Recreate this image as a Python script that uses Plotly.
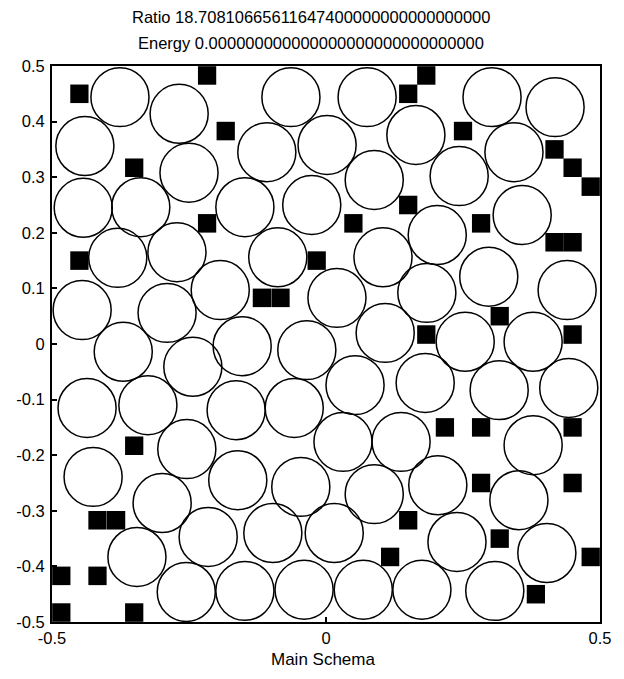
import plotly.graph_objects as go

# Disc centres (x, y) of the packing
circle_x = [-0.376, -0.268, -0.064, 0.075, 0.303, 0.418, -0.440, -0.108, 0.002, 0.164,
            0.343, -0.250, 0.088, 0.243, -0.443, -0.338, -0.148, -0.026, 0.203, 0.358,
            -0.380, -0.272, -0.088, 0.104, 0.297, 0.440, -0.193, -0.445, -0.290, 0.020,
            0.184, -0.370, -0.243, -0.153, -0.035, 0.108, 0.254, 0.378, -0.436, -0.325,
            -0.164, -0.058, 0.053, 0.181, 0.316, 0.443, -0.254, 0.031, 0.137, 0.378,
            -0.425, -0.161, -0.046, 0.088, 0.204, -0.299, 0.352, -0.215, -0.097, 0.015,
            0.239, -0.345, 0.403, -0.255, -0.148, -0.040, 0.068, 0.175, 0.308]
circle_y = [0.444, 0.414, 0.444, 0.444, 0.444, 0.426, 0.356, 0.345, 0.358, 0.376,
            0.345, 0.308, 0.295, 0.302, 0.245, 0.246, 0.246, 0.250, 0.196, 0.232,
            0.155, 0.165, 0.156, 0.156, 0.121, 0.097, 0.097, 0.061, 0.056, 0.083,
            0.092, -0.014, -0.041, -0.004, -0.011, 0.020, 0.004, 0.004, -0.115, -0.110,
            -0.119, -0.115, -0.074, -0.070, -0.083, -0.079, -0.189, -0.176, -0.176, -0.182,
            -0.239, -0.245, -0.257, -0.270, -0.254, -0.286, -0.281, -0.347, -0.340, -0.340,
            -0.356, -0.383, -0.376, -0.446, -0.444, -0.442, -0.442, -0.442, -0.444]

# Occupied grid cells (cell centres)
block_x = [-0.450, -0.217, -0.183, -0.350, -0.217, -0.450, 0.183, 0.150, 0.250, 0.417,
           0.450, 0.483, 0.150, 0.050, 0.283, 0.417, 0.450, -0.017, -0.117, -0.083,
           0.317, 0.183, 0.450, 0.217, 0.283, 0.450, -0.350, 0.283, 0.450, -0.417,
           -0.383, 0.150, 0.317, 0.117, 0.483, -0.483, -0.417, 0.383, -0.483, -0.350]
block_y = [0.450, 0.483, 0.383, 0.317, 0.217, 0.150, 0.483, 0.450, 0.383, 0.350,
           0.317, 0.283, 0.250, 0.217, 0.217, 0.183, 0.183, 0.150, 0.083, 0.083,
           0.050, 0.017, 0.017, -0.150, -0.150, -0.150, -0.183, -0.250, -0.250, -0.317,
           -0.317, -0.317, -0.350, -0.383, -0.383, -0.417, -0.417, -0.450, -0.483, -0.483]

x_ticks = [-0.5, 0, 0.5]
x_tick_text = ["-0.5", "0", "0.5"]
y_ticks = [0.5, 0.4, 0.3, 0.2, 0.1, 0, -0.1, -0.2, -0.3, -0.4, -0.5]
y_tick_text = ["0.5", "0.4", "0.3", "0.2", "0.1", "0", "-0.1", "-0.2", "-0.3", "-0.4", "-0.5"]

title_lines = ["Ratio 18.70810665611647400000000000000000",
               "Energy 0.000000000000000000000000000000"]
x_label = "Main Schema"

RADIUS = 0.053
CELL = 1 / 30
FONT = "Liberation Sans, Arial, sans-serif"

shapes = []
for bx, by in zip(block_x, block_y):
    shapes.append(dict(type="rect", xref="x", yref="y",
                       x0=bx - CELL / 2, x1=bx + CELL / 2,
                       y0=by - CELL / 2, y1=by + CELL / 2,
                       fillcolor="black", line=dict(width=0)))
for cx, cy in zip(circle_x, circle_y):
    shapes.append(dict(type="circle", xref="x", yref="y",
                       x0=cx - RADIUS, x1=cx + RADIUS,
                       y0=cy - RADIUS, y1=cy + RADIUS,
                       fillcolor="rgba(0,0,0,0)",
                       line=dict(color="black", width=1.5)))

fig = go.Figure()
fig.add_trace(go.Scatter(x=[], y=[], showlegend=False))

axis_common = dict(showgrid=False, zeroline=False, showline=True, linecolor="black",
                   linewidth=2, mirror=True, ticks="inside", ticklen=5,
                   tickcolor="black", tickwidth=1.5,
                   tickfont=dict(family=FONT, size=16.5, color="black"))

fig.update_layout(
    width=624, height=679,
    margin=dict(l=52, r=24, t=66, b=57),
    plot_bgcolor="white", paper_bgcolor="white",
    showlegend=False,
    shapes=shapes,
    xaxis=dict(range=[-0.5, 0.5], tickvals=x_ticks, ticktext=x_tick_text, **axis_common),
    yaxis=dict(range=[-0.5, 0.5], tickvals=y_ticks, ticktext=y_tick_text,
               ticklabelstandoff=2, **axis_common),
    annotations=[
        dict(text=title_lines[0], xref="paper", yref="paper", x=0.473, y=1.088,
             showarrow=False, xanchor="center", yanchor="middle",
             font=dict(family=FONT, size=16.5, color="black")),
        dict(text=title_lines[1], xref="paper", yref="paper", x=0.473, y=1.041,
             showarrow=False, xanchor="center", yanchor="middle",
             font=dict(family=FONT, size=16.5, color="black")),
        dict(text=x_label, xref="paper", yref="paper", x=0.494, y=-0.068,
             showarrow=False, xanchor="center", yanchor="middle",
             font=dict(family=FONT, size=17, color="black")),
    ],
)

fig.write_html("out.html")
